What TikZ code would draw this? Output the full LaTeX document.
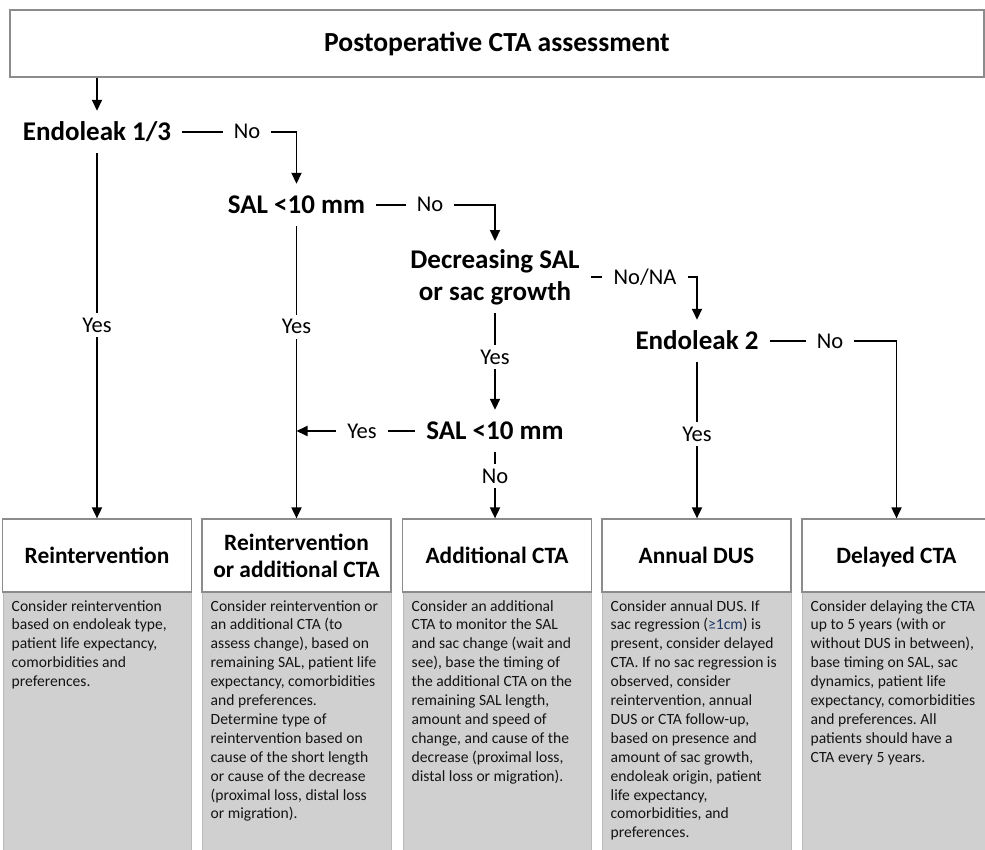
\documentclass[tikz,border=0pt]{standalone}
\usepackage{fontspec}
\setmainfont{Carlito}
\frenchspacing
\usetikzlibrary{arrows.meta,calc}
\definecolor{boxgray}{RGB}{208,208,208}
\definecolor{edgegray}{RGB}{140,140,140}
\definecolor{navy}{RGB}{31,56,100}
\begin{document}
\begin{tikzpicture}[x=1pt,y=-1pt,
 dec/.style={font=\fontsize{27}{32}\selectfont\bfseries, inner xsep=11pt, inner ysep=10.5pt, text height=19pt, text depth=2pt},
 dec2/.style={font=\fontsize{27}{32}\selectfont\bfseries, inner xsep=11pt, inner ysep=8pt, align=center},
 lbl/.style={font=\fontsize{22.5}{26}\selectfont, inner xsep=11pt, inner ysep=5pt, text height=14pt, text depth=0pt},
 hdrbase/.style={draw=edgegray, line width=1.2pt, fill=white, minimum width=189pt, minimum height=73pt, inner sep=0pt, align=center, font=\fontsize{23.4}{27}\selectfont\bfseries},
 hdr/.style={hdrbase, text height=16pt, text depth=0pt},
 bodybox/.style={fill=boxgray, draw=edgegray!60, line width=0.8pt},
 body/.style={anchor=north west, inner sep=0pt, align=left, font=\fontsize{15.6}{18.9}\selectfont\frenchspacing, text=black!92},
 ln/.style={line width=1.8pt},
 arr/.style={ln, -{Triangle[length=11pt,width=10pt]}},
]
\useasboundingbox (0,0) rectangle (985,850);

% title
\node[draw=edgegray, line width=1.2pt, minimum width=974pt, minimum height=67pt, inner sep=0pt,
      font=\fontsize{27.6}{32}\selectfont\bfseries] (top) at (497,43.5) {Postoperative CTA assessment};

% decisions
\node[dec] (e13) at (97,132) {Endoleak 1/3};
\node[dec] (sal1) at (296.5,205) {SAL <10 mm};
\node[dec2] (dec) at (495,277) {Decreasing SAL\\or sac growth};
\node[dec] (e2) at (697,341) {Endoleak 2};
\node[dec] (sal2) at (495,431) {SAL <10 mm};

% labels
\node[lbl] (no1) at (247,132) {No};
\node[lbl] (yes1) at (97,325) {Yes};
\node[lbl] (no2) at (430,205) {No};
\node[lbl] (yes2) at (296.5,327) {Yes};
\node[lbl] (nona) at (645,277) {No/NA};
\node[lbl] (yes3) at (495,357) {Yes};
\node[lbl] (no4) at (830,341) {No};
\node[lbl] (yes4) at (697,434) {Yes};
\node[lbl] (yes5) at (362,431) {Yes};
\node[lbl] (no6) at (495,476) {No};

% bodies
\draw[bodybox] (3,592) rectangle (191,856);
\draw[bodybox] (202,592) rectangle (391,856);
\draw[bodybox] (403,592) rectangle (591,856);
\draw[bodybox] (602,592) rectangle (791,856);
\draw[bodybox] (802,592) rectangle (991,856);

% headers
\node[hdr] (b1) at (97,555.5) {Reintervention};
\node[hdrbase] (b2) at (296.5,555.5) {Reintervention\\or additional CTA};
\node[hdr] (b3) at (497,555.5) {Additional CTA};
\node[hdr] (b4) at (696.5,555.5) {Annual DUS};
\node[hdr] (b5) at (896.5,555.5) {Delayed CTA};

% body texts
\node[body] (t1) at (11.5,600) {Consider reintervention\\based on endoleak type,\\patient life expectancy,\\comorbidities and\\preferences.};
\node[body] (t2) at (210.5,600) {Consider reintervention or\\an additional CTA (to\\assess change), based on\\remaining SAL, patient life\\expectancy, comorbidities\\and preferences.\\Determine type of\\reintervention based on\\cause of the short length\\or cause of the decrease\\(proximal loss, distal loss\\or migration).};
\node[body] (t3) at (411.5,600) {Consider an additional\\CTA to monitor the SAL\\and sac change (wait and\\see), base the timing of\\the additional CTA on the\\remaining SAL length,\\amount and speed of\\change, and cause of the\\decrease (proximal loss,\\distal loss or migration).};
\node[body] (t4) at (610.5,600) {Consider annual DUS. If\\sac regression ({\color{navy}≥1cm}) is\\present, consider delayed\\CTA. If no sac regression is\\observed, consider\\reintervention, annual\\DUS or CTA follow-up,\\based on presence and\\amount of sac growth,\\endoleak origin, patient\\life expectancy,\\comorbidities, and\\preferences.};
\node[body] (t5) at (810.5,600) {Consider delaying the CTA\\up to 5 years (with or\\without DUS in between),\\base timing on SAL, sac\\dynamics, patient life\\expectancy, comorbidities\\and preferences. All\\patients should have a\\CTA every 5 years.};

% connectors
\draw[arr] (top.south -| e13.north) -- (e13.north);
\draw[ln] (e13.east) -- (no1.west);
\draw[arr] (no1.east) -| (sal1.north);
\draw[ln] (e13.south) -- (yes1.north);
\draw[arr] (yes1.south) -- (yes1.south |- b1.north);
\draw[ln] (sal1.east) -- (no2.west);
\draw[arr] (no2.east) -| (dec.north);
\draw[ln] (sal1.south) -- (yes2.north);
\draw[arr] (yes2.south) -- (yes2.south |- b2.north);
\draw[ln] (dec.east) -- (nona.west);
\draw[arr] (nona.east) -| (e2.north);
\draw[ln] (dec.south) -- (yes3.north);
\draw[arr] (yes3.south) -- (sal2.north);
\draw[ln] (sal2.west) -- (yes5.east);
\draw[arr] (yes5.west) -- (yes5.west -| sal1.south);
\draw[ln] (sal2.south) -- (no6.north);
\draw[arr] (no6.south) -- (no6.south |- b3.north);
\draw[ln] (e2.east) -- (no4.west);
\draw[arr] (no4.east) -| (b5.north);
\draw[ln] (e2.south) -- (yes4.north);
\draw[arr] (yes4.south) -- (yes4.south |- b4.north);
\end{tikzpicture}
\end{document}
